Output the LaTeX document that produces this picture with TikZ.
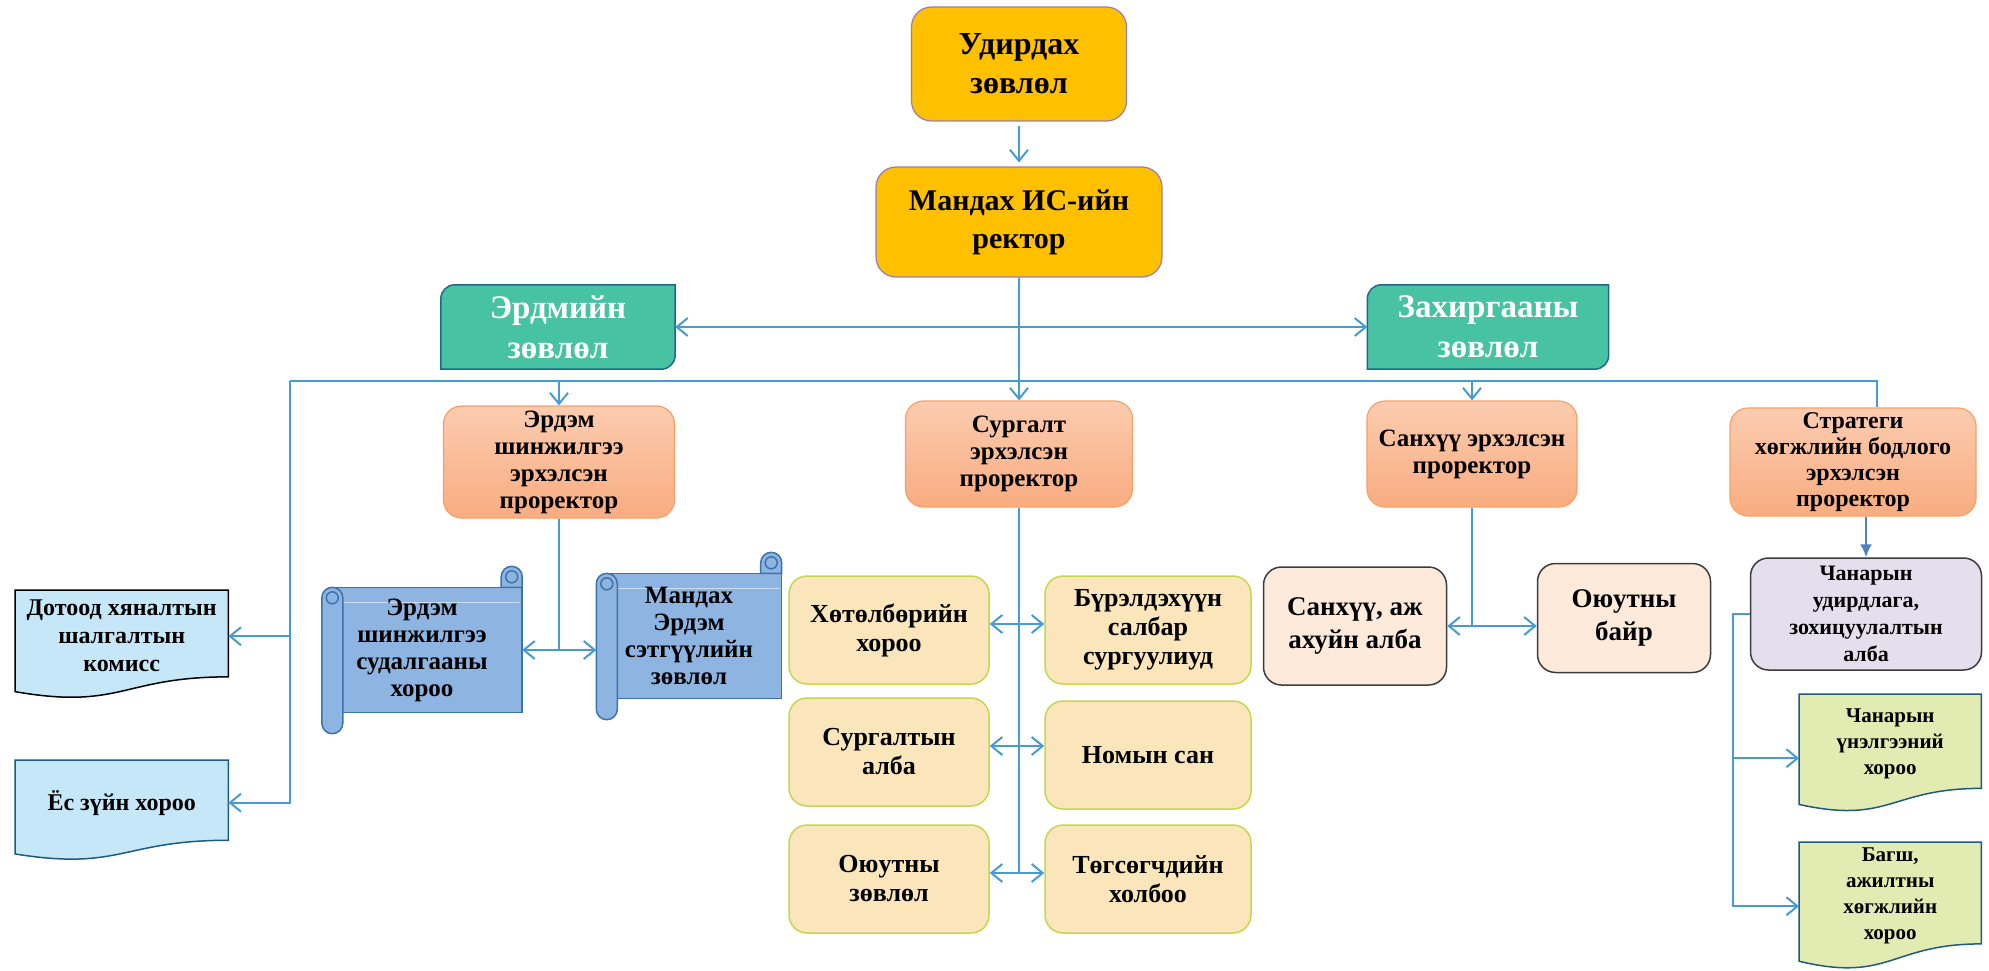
\documentclass[tikz,border=0pt]{standalone}
\usepackage{fontspec}
\setmainfont{Liberation Serif}
\usetikzlibrary{arrows.meta}
\usetikzlibrary{calc, backgrounds}

\definecolor{topfill}{RGB}{255,192,0}
\definecolor{topline}{RGB}{150,125,185}
\definecolor{councilfill}{RGB}{71,195,164}
\definecolor{councilline}{RGB}{30,105,135}
\definecolor{protop}{RGB}{251,204,176}
\definecolor{probot}{RGB}{249,172,128}
\definecolor{proline}{RGB}{248,160,100}
\definecolor{unitfill}{RGB}{250,230,186}
\definecolor{unitline}{RGB}{195,215,80}
\definecolor{peachfill}{RGB}{253,234,218}
\definecolor{lilacfill}{RGB}{228,223,236}
\definecolor{darkline}{RGB}{60,60,60}
\definecolor{sheetfill}{RGB}{198,231,248}
\definecolor{sheetline}{RGB}{30,90,130}
\definecolor{leaffill}{RGB}{226,235,178}
\definecolor{scrollfill}{RGB}{142,180,226}
\definecolor{scrollline}{RGB}{60,115,170}
\definecolor{linkblue}{RGB}{70,155,210}
\definecolor{tipblue}{RGB}{79,129,189}

\newcommand{\fs}[2]{\fontsize{#1}{#2}\selectfont\bfseries}

% council boxes: rounded only at top left and bottom right
\newcommand{\councilshape}[1]{%
	\draw[fill=councilfill, draw=councilline, line width=1.5pt]
	(#1.south west) -- ([yshift=-14pt]#1.north west)
	arc[start angle=180, end angle=90, radius=14pt] -- (#1.north east)
	-- ([yshift=14pt]#1.south east)
	arc[start angle=0, end angle=-90, radius=14pt] -- cycle;}

% sheet with wavy bottom
\newcommand{\sheetshape}[2]{%
	\draw[#2] (#1.north west) -- (#1.north east)
	-- ($(#1.north east)!0.94!(#1.south east)$)
	.. controls ($(#1.north)!0.94!(#1.south)$) and ($(#1.north)!1.30!(#1.south)$)
	.. ($(#1.north west)!1.10!(#1.south west)$) -- cycle;}

% scroll with a roll on the left
\newcommand{\scrollshape}[1]{%
	\begin{scope}[fill=scrollfill, draw=scrollline, line width=1.5pt]
		\filldraw ([xshift=10pt]#1.south west) rectangle (#1.north east);
		\draw[white!55!scrollfill, line width=1.2pt] ([xshift=21pt,yshift=-15pt]#1.north west) -- ([xshift=-2pt,yshift=-15pt]#1.north east);
		\filldraw ([xshift=-21pt]#1.north east) -- ([xshift=-21pt,yshift=10.5pt]#1.north east)
		arc[start angle=180, end angle=0, radius=10.5pt] -- (#1.north east) -- cycle;
		\filldraw ([yshift=-10.5pt]#1.north west) -- ([yshift=-10.5pt]#1.south west)
		arc[start angle=180, end angle=360, radius=10.5pt]
		-- ([xshift=21pt,yshift=-10.5pt]#1.north west)
		arc[start angle=0, end angle=180, radius=10.5pt] -- cycle;
		\draw ([xshift=10.5pt,yshift=-10.5pt]#1.north west) circle[radius=6pt];
		\draw ([xshift=-10.5pt,yshift=10.5pt]#1.north east) circle[radius=6pt];
	\end{scope}}

\tikzset{
	topbox/.style={draw=topline, fill=topfill, line width=1.2pt, rounded corners=20pt,
		align=center, inner sep=0pt, font=\fs{30}{38}},
	councilbox/.style={align=center, inner sep=0pt, text=white, font=\fs{33}{40}},
	probox/.style={draw=proline, top color=protop, bottom color=probot, line width=1.2pt,
		rounded corners=18pt, align=center, inner sep=0pt, font=\fs{25}{27}},
	unitbox/.style={draw=unitline, fill=unitfill, line width=1.5pt, rounded corners=18pt,
		align=center, inner sep=0pt, minimum height=108pt, font=\fs{26}{29}},
	officebox/.style={draw=darkline, line width=1.5pt, rounded corners=18pt,
		align=center, inner sep=0pt, font=\fs{27}{33}},
	sheetbox/.style={align=center, inner sep=0pt, font=\fs{24}{28}},
	scrollbox/.style={align=center, inner sep=0pt, font=\fs{25}{27}},
	link/.style={draw=linkblue, line width=2pt},
	tip/.style={-{Straight Barb[length=11pt,width=18pt]}},
	twotip/.style={{Straight Barb[length=11pt,width=18pt]}-{Straight Barb[length=11pt,width=18pt]}}
}

\begin{document}
\begin{tikzpicture}[x=1pt, y=1pt]
	\useasboundingbox (0,0) rectangle (1989,-971);
	
	% top of the tree
	\node[topbox, minimum width=215pt, minimum height=114pt, font=\fs{32}{39}] (board) at (1019,-64) {Удирдах\\зөвлөл};
	\node[topbox, minimum width=286pt, minimum height=110pt] (rector) at (1019,-222) {Мандах ИС-ийн\\ректор};
	\node[councilbox, minimum width=234pt, minimum height=84pt] (academic) at (558,-327) {Эрдмийн\\зөвлөл};
	\node[councilbox, minimum width=241pt, minimum height=84pt] (admin) at (1488,-327) {Захиргааны\\зөвлөл};
	
	% vice rectors
	\node[probox, minimum width=231pt, minimum height=112pt] (research) at (559,-462) {Эрдэм\\шинжилгээ\\эрхэлсэн\\проректор};
	\node[probox, minimum width=227pt, minimum height=106pt] (teaching) at (1019,-454) {Сургалт\\эрхэлсэн\\проректор};
	\node[probox, minimum width=210pt, minimum height=106pt] (finance) at (1472,-454) {Санхүү эрхэлсэн\\проректор};
	\node[probox, minimum width=246pt, minimum height=108pt, font=\fs{24}{26}] (strategy) at (1853,-462) {Стратеги\\хөгжлийн бодлого\\эрхэлсэн\\проректор};
	
	% committees on the left
	\node[sheetbox, anchor=north west, minimum width=213pt, minimum height=92pt] (audit) at (15,-590) {Дотоод хяналтын\\шалгалтын\\комисс};
	\node[sheetbox, anchor=north west, minimum width=213pt, minimum height=85pt] (ethics) at (15,-760) {Ёс зүйн хороо};
	\node[scrollbox, minimum width=200pt, minimum height=125pt] (studies) at (422,-650) {Эрдэм\\шинжилгээ\\судалгааны\\хороо};
	\node[scrollbox, minimum width=185pt, minimum height=125pt] (journal) at (689,-636) {Мандах\\Эрдэм\\сэтгүүлийн\\зөвлөл};
	
	% teaching units
	\node[unitbox, minimum width=200pt] (programme) at (889,-630) {Хөтөлбөрийн\\хороо};
	\node[unitbox, minimum width=206pt] (branches) at (1148,-630) {Бүрэлдэхүүн\\салбар\\сургуулиуд};
	\node[unitbox, minimum width=200pt] (office) at (889,-752) {Сургалтын\\алба};
	\node[unitbox, minimum width=206pt] (library) at (1148,-755) {Номын сан};
	\node[unitbox, minimum width=200pt] (council) at (889,-879) {Оюутны\\зөвлөл};
	\node[unitbox, minimum width=206pt] (alumni) at (1148,-879) {Төгсөгчдийн\\холбоо};
	
	% finance and quality units
	\node[officebox, fill=peachfill, minimum width=183pt, minimum height=118pt] (finoffice) at (1355,-626) {Санхүү, аж\\ахуйн алба};
	\node[officebox, fill=peachfill, minimum width=173pt, minimum height=109pt] (dorm) at (1624,-618) {Оюутны\\байр};
	\node[officebox, fill=lilacfill, minimum width=231pt, minimum height=112pt, font=\fs{22}{27}] (quality) at (1866,-614) {Чанарын\\удирдлага,\\зохицуулалтын\\алба};
	\node[sheetbox, anchor=north west, minimum width=182pt, minimum height=100pt, font=\fs{21}{26}] (assess) at (1799,-694) {Чанарын\\үнэлгээний\\хороо};
	\node[sheetbox, anchor=north west, minimum width=182pt, minimum height=108pt, font=\fs{21}{26}] (staff) at (1799,-842) {Багш,\\ажилтны\\хөгжлийн\\хороо};
	
	\begin{scope}[on background layer]
		\councilshape{academic}
		\councilshape{admin}
		\scrollshape{studies}
		\scrollshape{journal}
		\sheetshape{audit}{fill=sheetfill, draw=black, line width=1.5pt}
		\sheetshape{ethics}{fill=sheetfill, draw=sheetline, line width=1.5pt}
		\sheetshape{assess}{fill=leaffill, draw=sheetline, line width=1.5pt}
		\sheetshape{staff}{fill=leaffill, draw=sheetline, line width=1.5pt}
	\end{scope}
	
	% connectors
	\coordinate (busL) at (290,-381);
	\coordinate (busR) at (1877,-381);
	\coordinate (qualL) at (1733,-614);
	\coordinate (assessIn) at ([yshift=-14pt]assess.west);
	\coordinate (staffIn) at ([yshift=-10pt]staff.west);
	\coordinate (programmeOut) at ([yshift=6pt]programme.east);
	\coordinate (officeOut) at ([yshift=6pt]office.east);
	\coordinate (councilOut) at ([yshift=6pt]council.east);
	\draw[link, tip, shorten <=4pt, shorten >=4pt] (board.south) -- (rector.north);
	\draw[link, tip] (rector.south) -- (teaching.north);
	\draw[link, twotip] (academic) -- (admin);
	\draw[link] (busL) -- (busR) -- (busR |- strategy.north);
	\draw[link, tip] (research.north |- busL) -- (research.north);
	\draw[link, tip] (finance.north |- busL) -- (finance.north);
	\draw[link, tip] (busL) |- (ethics.east);
	\draw[link, tip] (busL |- audit.east) -- (audit.east);
	
	\draw[link] (research.south) -- (research.south |- studies.east);
	\draw[link, twotip] (studies.east) -- (journal.west |- studies.east);
	
	\draw[link] (teaching.south) -- (teaching.south |- councilOut);
	\draw[link, twotip] (programmeOut) -- (branches.west |- programmeOut);
	\draw[link, twotip] (officeOut) -- (library.west |- officeOut);
	\draw[link, twotip] (councilOut) -- (alumni.west |- councilOut);
	
	\draw[link] (finance.south) -- (finance.south |- finoffice.east);
	\draw[link, twotip] (finoffice.east) -- (dorm.west |- finoffice.east);
	
	\draw[draw=tipblue, line width=2pt, -{Latex[length=13pt,width=12pt]}] (quality.north |- strategy.south) -- (quality.north);
	\draw[link, tip] (quality.west) -- (qualL) |- (staffIn);
	\draw[link, tip] (qualL |- assessIn) -- (assessIn);
\end{tikzpicture}
\end{document}
